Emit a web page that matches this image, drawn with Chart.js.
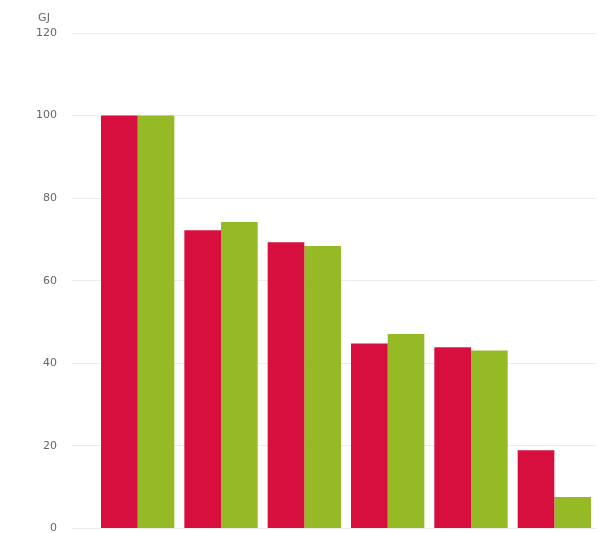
<!DOCTYPE html>
<html>
<head>
<meta charset="utf-8">
<script src="https://cdn.jsdelivr.net/npm/chart.js@4/dist/chart.umd.min.js"></script>
<style>
  html, body { margin: 0; padding: 0; background: #ffffff; overflow: hidden; }
  #wrap { width: 601px; height: 533px; overflow: hidden; }
  canvas { display: block; }
</style>
</head>
<body>
<div id="wrap"><canvas id="chart" width="601" height="550"></canvas></div>
<script>
// Categories and the two series of energy values (GJ)
const categories = ['A', 'B', 'C', 'D', 'E', 'F'];
const seriesRed = [100, 72.2, 69.3, 44.8, 43.9, 18.9];
const seriesGreen = [100, 74.2, 68.4, 47.1, 43.1, 7.6];
const yTicks = [0, 20, 40, 60, 80, 100, 120];
const unitLabel = 'GJ';

const labelFont = { family: 'DejaVu Sans', size: 11 };

// Draws the unit caption centred above the top tick label
const unitCaption = {
  id: 'unitCaption',
  afterDraw(chart) {
    const y = chart.scales.y;
    const ctx = chart.ctx;
    ctx.save();
    ctx.font = '11px "DejaVu Sans"';
    ctx.fillStyle = '#666666';
    ctx.textAlign = 'center';
    ctx.textBaseline = 'middle';
    ctx.fillText(unitLabel, 44, y.getPixelForValue(yTicks[yTicks.length - 1]) - 15);
    ctx.restore();
  }
};

new Chart(document.getElementById('chart'), {
  type: 'bar',
  data: {
    labels: categories,
    datasets: [
      { label: 'Serie 1', data: seriesRed, backgroundColor: '#d60f3e', borderWidth: 0 },
      { label: 'Serie 2', data: seriesGreen, backgroundColor: '#95ba25', borderWidth: 0 }
    ]
  },
  options: {
    responsive: false,
    animation: false,
    layout: { padding: { left: 0, right: 5, top: 33, bottom: 0 } },
    plugins: { legend: { display: false }, tooltip: { enabled: false } },
    datasets: { bar: { categoryPercentage: 0.88, barPercentage: 1.0 } },
    scales: {
      x: { display: false },
      y: {
        min: 0,
        max: 120,
        afterBuildTicks(scale) { scale.ticks = yTicks.map(v => ({ value: v })); },
        afterFit(scale) { scale.width = 96; },
        border: { display: false },
        grid: { color: '#ececec', lineWidth: 1, tickLength: 24, tickColor: '#ececec' },
        ticks: { color: '#666666', font: labelFont, padding: 15 }
      }
    }
  },
  plugins: [unitCaption]
});
</script>
</body>
</html>
